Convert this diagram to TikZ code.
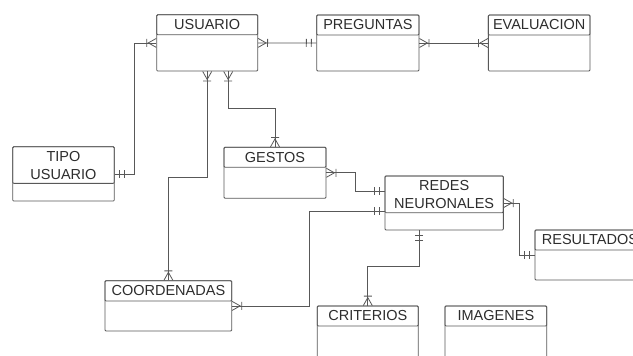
\documentclass[tikz,border=0pt]{standalone}
\usepackage{fontspec}
\setmainfont{Liberation Sans}
\usetikzlibrary{decorations.markings}
\definecolor{lc}{RGB}{88,88,88}
\definecolor{tc}{RGB}{45,45,45}
\tikzset{
  ent/.style={draw=lc,line width=.8pt,rounded corners=1pt,inner sep=0pt},
  hd/.style={draw=lc,line width=.8pt,rounded corners=1pt,inner sep=0pt,align=center,
    text=tc,font=\fontsize{14.5}{18}\selectfont},
  rel/.style={draw=lc,line width=.8pt},
  crowS/.style={postaction={decorate,decoration={markings,mark=at position 0 with
    {\draw[lc,line width=.8pt] (0pt,4.5pt) -- (8pt,0pt) -- (0pt,-4.5pt) (9.5pt,4pt) -- (9.5pt,-4pt);}}}},
  crowE/.style={postaction={decorate,decoration={markings,mark=at position 1 with
    {\draw[lc,line width=.8pt] (0pt,4.5pt) -- (-8pt,0pt) -- (0pt,-4.5pt) (-9.5pt,4pt) -- (-9.5pt,-4pt);}}}},
  barS/.style={postaction={decorate,decoration={markings,mark=at position 0 with
    {\draw[lc,line width=.8pt] (5pt,4pt) -- (5pt,-4pt) (10pt,4pt) -- (10pt,-4pt);}}}},
  barE/.style={postaction={decorate,decoration={markings,mark=at position 1 with
    {\draw[lc,line width=.8pt] (-5pt,4pt) -- (-5pt,-4pt) (-10pt,4pt) -- (-10pt,-4pt);}}}}
}
% name, x, y, width, height, header height, title
\newcommand{\entity}[7]{%
  \node[ent,minimum width=#4pt,minimum height=#5pt] (#1) at (#2,#3) {};
  \node[hd,anchor=north,minimum width=#4pt,minimum height=#6pt] (#1-h) at (#1.north) {#7};}

\begin{document}
\begin{tikzpicture}[x=1pt,y=-1pt]
\useasboundingbox (0,0) rectangle (633,356);
\clip (0,0) rectangle (633,356);
\fill[white] (0,0) rectangle (633,356);
% entities
\entity{usuario}{207.2}{42.9}{101}{56.3}{20}{USUARIO}
\entity{preguntas}{367.9}{43}{102.3}{56}{20}{PREGUNTAS}
\entity{evaluacion}{539.2}{43}{101.7}{56}{20}{EVALUACION}
\entity{tipo}{63.5}{173.9}{101.6}{54.3}{36.6}{TIPO\\USUARIO}
\entity{gestos}{275}{172.8}{102}{51}{20}{GESTOS}
\entity{redes}{444.2}{203}{118.3}{54}{36.7}{REDES\\NEURONALES}
\entity{resultados}{590}{255}{110}{50}{20}{RESULTADOS}
\entity{coordenadas}{168.4}{305.9}{126.7}{50.3}{20.3}{COORDENADAS}
\entity{criterios}{367.8}{334}{101}{56}{20}{CRITERIOS}
\entity{imagenes}{495.9}{334}{101.7}{56}{20}{IMAGENES}
% relations
\draw[rel,crowS,barE] (usuario.west) -- ++(-22,0) |- (tipo.east);
\draw[rel,crowS,barE] (usuario.east) -- (preguntas.west);
\draw[rel,crowS,crowE] (preguntas.east) -- (evaluacion.west);
\draw[rel,crowS,crowE] (usuario.south) -- ++(0,106) -| (coordenadas.north);
\draw[rel,crowS,crowE] ([xshift=21pt]usuario.south) -- ++(0,37) -| (gestos.north);
\draw[rel,crowS,barE] (gestos.east) -- ++(29,0) |- ([yshift=12pt]redes.west);
\draw[rel,crowS,barE] (coordenadas.east) -- ++(77,0) |- ([yshift=-8pt]redes.west);
\draw[rel,crowS,barE] (redes.east) -- ++(16,0) |- (resultados.west);
\draw[rel,barS,crowE] ([xshift=-25pt]redes.south) -- ++(0,35.7) -| (criterios.north);
\end{tikzpicture}
\end{document}
